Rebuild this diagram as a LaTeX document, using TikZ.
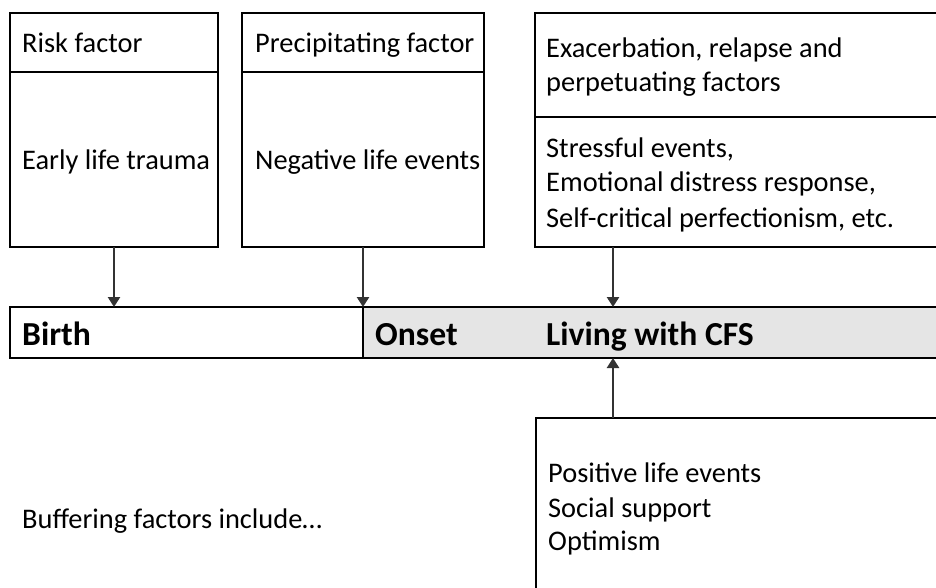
\documentclass[tikz,border=0pt]{standalone}
\usepackage{fontspec}
\setmainfont{Carlito}
\usetikzlibrary{arrows.meta}
\begin{document}
\begin{tikzpicture}[x=1pt,y=-1pt,
  frame/.style={draw=black,line width=2.4pt,inner sep=0pt,outer sep=0pt},
  txt/.style={anchor=base west,inner sep=0pt,font=\fontsize{28.4}{34}\selectfont},
  bigtxt/.style={anchor=base west,inner sep=0pt,font=\fontsize{33.6}{38}\selectfont\bfseries},
  conn/.style={draw=black!80,line width=2.6pt,-{Triangle[width=12pt,length=10pt]}}]
\useasboundingbox (0,0) rectangle (936,588);
% boxes
\node[frame,anchor=north west,minimum width=208,minimum height=234] (b1) at (10,13) {};
\node[frame,anchor=north west,minimum width=242,minimum height=234] (b2) at (242,13) {};
\node[frame,anchor=north west,minimum width=420,minimum height=234] (b3) at (535,13) {};
\draw[line width=2.4pt] (10,72) -- (218,72);
\draw[line width=2.4pt] (242,72) -- (484,72);
\draw[line width=2.4pt] (535,117) -- (950,117);
% timeline
\fill[black!10] (363,307) rectangle (950,358);
\node[frame,anchor=north west,minimum width=940,minimum height=51] (tl) at (10,307) {};
\draw[line width=2.4pt] (363,307) -- (363,358);
% bottom box
\node[frame,anchor=north west,minimum width=420,minimum height=200] (b4) at (536,418) {};
% texts
\node[txt] (t1) at (22,53) {Risk factor};
\node[txt] (t2) at (22,170) {Early life trauma};
\node[txt] (t3) at (255,53) {Precipitating factor};
\node[txt] (t4) at (255,170) {Negative life events};
\node[txt] (t5) at (546,58) {Exacerbation, relapse and};
\node[txt] (t6) at (546,92) {perpetuating factors};
\node[txt] (t7) at (546,158) {Stressful events,};
\node[txt] (t8) at (546,192) {Emotional distress response,};
\node[txt] (t9) at (546,227) {Self-critical perfectionism, etc.};
\node[bigtxt] (birth) at (22,345) {Birth};
\node[bigtxt] (onset) at (375,345) {Onset};
\node[bigtxt] (living) at (546,345) {Living with CFS};
\node[txt] (buf) at (22,528) {Buffering factors include\dots};
\node[txt] (p1) at (548,482) {Positive life events};
\node[txt] (p2) at (548,517) {Social support};
\node[txt] (p3) at (548,550) {Optimism};
% connectors
\coordinate (a3) at (613,247);
\coordinate (a4) at (613,418);
\draw[conn] (b1.south) -- (b1.south |- tl.north);
\draw[conn] (b2.south) -- (b2.south |- tl.north);
\draw[conn] (a3) -- (a3 |- tl.north);
\draw[conn] (a4) -- (a4 |- tl.south);
\end{tikzpicture}
\end{document}
